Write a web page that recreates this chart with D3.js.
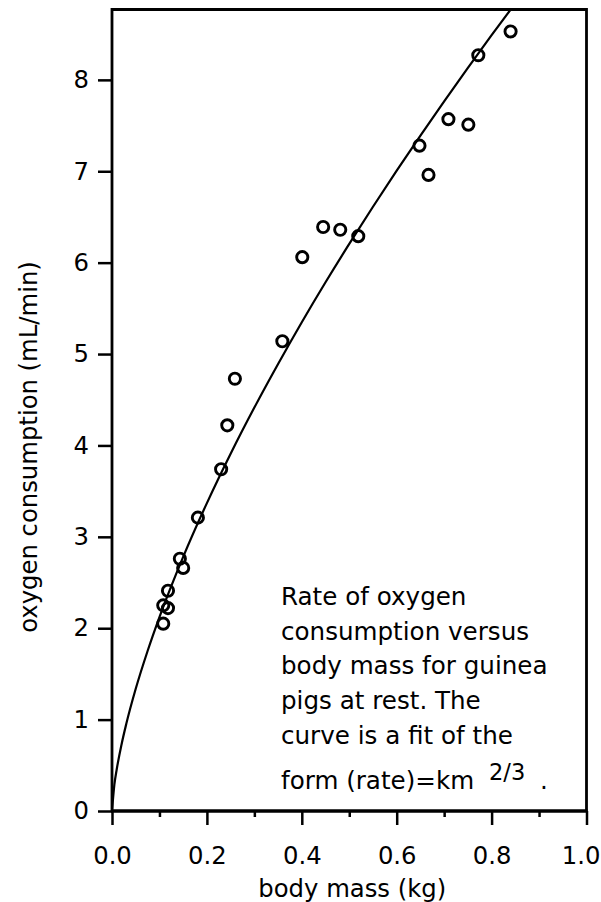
<!DOCTYPE html>
<html>
<head>
<meta charset="utf-8">
<script src="https://cdn.jsdelivr.net/npm/d3@7"></script>
<style>
  html, body { margin: 0; padding: 0; background: #fff; }
  svg { display: block; }
  text { font-family: "DejaVu Sans", sans-serif; fill: #000; }
</style>
</head>
<body>
<svg id="chart" width="601" height="902"></svg>
<script>
// ---- data ----
const massKg = [0.840, 0.772, 0.709, 0.751, 0.648, 0.667, 0.445, 0.481, 0.519, 0.401,
                0.359, 0.259, 0.243, 0.230, 0.181, 0.143, 0.150, 0.118, 0.108, 0.118, 0.108];
const oxygenRate = [8.53, 8.27, 7.57, 7.51, 7.28, 6.96, 6.39, 6.36, 6.29, 6.06,
                    5.14, 4.73, 4.22, 3.74, 3.21, 2.76, 2.66, 2.41, 2.25, 2.22, 2.05];
// fitted curve (rate = k m^(2/3))
const fitMass = [0, 0.005, 0.01, 0.02, 0.03, 0.05, 0.075, 0.1, 0.15, 0.2, 0.25, 0.3, 0.35,
                 0.4, 0.45, 0.5, 0.55, 0.6, 0.65, 0.7, 0.75, 0.8, 0.85];
const fitRate = [0, 0.288, 0.457, 0.726, 0.951, 1.337, 1.751, 2.122, 2.781, 3.369, 3.909, 4.414, 4.891,
                 5.348, 5.785, 6.205, 6.612, 7.007, 7.391, 7.766, 8.131, 8.489, 8.838];
const xMajorTicks = [0, 0.2, 0.4, 0.6, 0.8, 1.0];
const xMinorTicks = [0.1, 0.3, 0.5, 0.7, 0.9];
const yTicks = [0, 1, 2, 3, 4, 5, 6, 7, 8];
const xTitle = "body mass (kg)";
const yTitle = "oxygen consumption (mL/min)";
const noteLines = ["Rate of oxygen", "consumption versus", "body mass for guinea",
                   "pigs at rest. The", "curve is a fit of the"];
const noteLast = "form (rate)=km";
const noteSup = "2/3";

// ---- layout ----
const svg = d3.select("#chart");
const L = 112, R = 586.5, T = 9.5, B = 811;
const x = d3.scaleLinear().domain([0, 1]).range([L, R]);
const y = d3.scaleLinear().domain([0, 8.77]).range([B, T]);

svg.append("defs").append("clipPath").attr("id", "plotclip")
  .append("rect").attr("x", L).attr("y", T).attr("width", R - L).attr("height", B - T);

// fit curve
const fitPts = fitMass.map((m, i) => [m, fitRate[i]]);
svg.append("path")
  .attr("clip-path", "url(#plotclip)")
  .attr("d", d3.line().x(d => x(d[0])).y(d => y(d[1])).curve(d3.curveMonotoneX)(fitPts))
  .attr("fill", "none").attr("stroke", "#000").attr("stroke-width", 2.2);

// data points
svg.append("g").selectAll("circle")
  .data(massKg.map((m, i) => [m, oxygenRate[i]]))
  .join("circle")
  .attr("cx", d => x(d[0])).attr("cy", d => y(d[1]))
  .attr("r", 5.6)
  .attr("fill", "none").attr("stroke", "#000").attr("stroke-width", 2.9);

// axes
const xAxis = d3.axisBottom(x).tickValues(xMajorTicks).tickSize(14).tickPadding(22)
  .tickFormat(d3.format(".1f"));
const gx = svg.append("g").attr("transform", `translate(0,${B})`).call(xAxis);
gx.select(".domain").remove();
gx.selectAll(".tick line").attr("stroke-width", 2.5);
gx.selectAll(".tick text").attr("font-size", 24.3).attr("font-family", "DejaVu Sans");
// keep the last label inside the page edge
gx.selectAll(".tick text").filter(d => d === 1).attr("text-anchor", "end").attr("x", 600 - R);

const xMinor = d3.axisBottom(x).tickValues(xMinorTicks).tickSize(6).tickFormat("");
const gxm = svg.append("g").attr("transform", `translate(0,${B})`).call(xMinor);
gxm.select(".domain").remove();
gxm.selectAll(".tick line").attr("stroke-width", 2.5);

const yAxis = d3.axisLeft(y).tickValues(yTicks).tickSize(14).tickPadding(9)
  .tickFormat(d3.format("d"));
const gy = svg.append("g").attr("transform", `translate(${L},0)`).call(yAxis);
gy.select(".domain").remove();
gy.selectAll(".tick line").attr("stroke-width", 2.5);
gy.selectAll(".tick text").attr("font-size", 24.3).attr("font-family", "DejaVu Sans");

// frame
svg.append("path")
  .attr("d", `M${L},${B} V${T} H${R} V${B}`)
  .attr("fill", "none").attr("stroke", "#000").attr("stroke-width", 2.8);
svg.append("line").attr("x1", L - 1).attr("x2", R + 1).attr("y1", B).attr("y2", B)
  .attr("stroke", "#000").attr("stroke-width", 3.5);

// axis titles
svg.append("text").attr("x", (L + R) / 2 + 3).attr("y", 897)
  .attr("text-anchor", "middle").attr("font-size", 24.3).text(xTitle);
svg.append("text").attr("transform", `translate(37,447) rotate(-90)`)
  .attr("text-anchor", "middle").attr("font-size", 24.3).text(yTitle);

// annotation
const note = svg.append("g");
const baselines = [604.5, 639.5, 674, 708.5, 744];
noteLines.forEach((t, i) => {
  note.append("text").attr("x", 281).attr("y", baselines[i]).attr("font-size", 24.6).text(t);
});
note.append("text").attr("x", 281).attr("y", 788.5).attr("font-size", 24.6).text(noteLast);
note.append("text").attr("x", 489).attr("y", 779.5).attr("font-size", 22.5).text(noteSup);
note.append("text").attr("x", 540).attr("y", 788.5).attr("font-size", 24.6).text(".");
</script>
</body>
</html>
